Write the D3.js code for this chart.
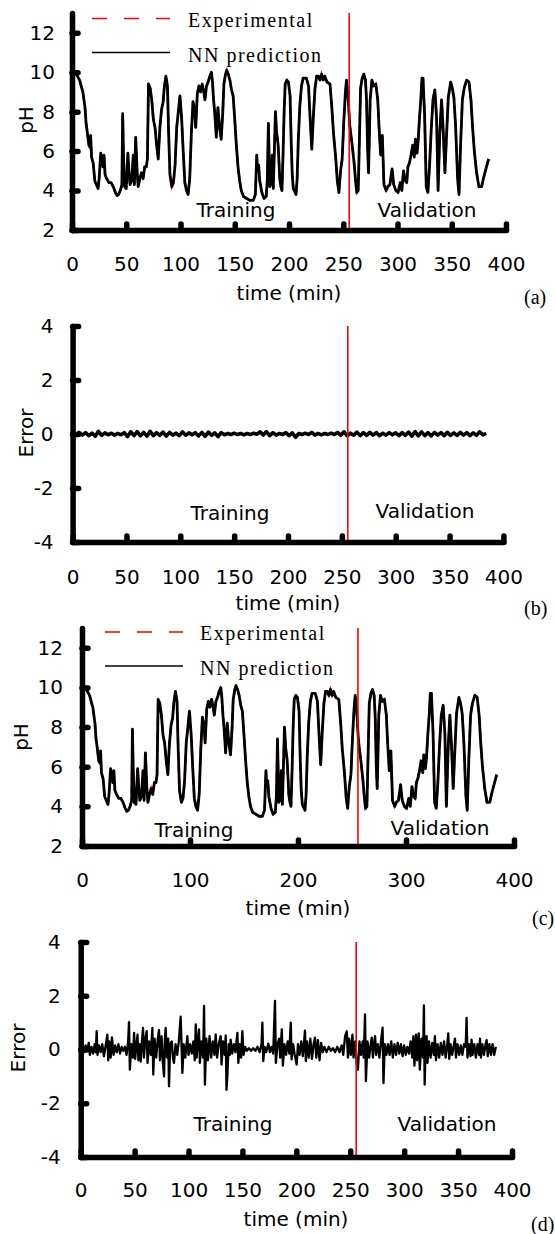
<!DOCTYPE html>
<html><head><meta charset="utf-8">
<script src="https://cdn.jsdelivr.net/npm/d3@7"></script>
<style>body{margin:0;background:#fff} svg{display:block}</style>
</head><body>
<svg id="chart" width="555" height="1234"></svg>
<script>
// ---------- data ----------
const phTicks = [2, 4, 6, 8, 10, 12];
const errTicks = [-4, -2, 0, 2, 4];
const timeTicksFine = [0, 50, 100, 150, 200, 250, 300, 350, 400];
const timeTicksCoarse = [0, 100, 200, 300, 400];
const splitTime = 255.5;
const legendLabels = ["Experimental", "NN prediction"];
const phaseLabels = ["Training", "Validation"];
const panelTags = ["(a)", "(b)", "(c)", "(d)"];

// pH series [time (min), pH]
const phSeries = [
[0,10.0],[2,10.0],[4,9.9],[7,9.6],[10,9.0],[12,8.2],[13,7.4],[14,7.0],[15.5,6.3],[16.5,6.2],
[17.2,6.8],[18,5.7],[19.5,5.4],[21,4.5],[22.5,4.3],[24,4.1],[25,4.6],[26.5,5.9],[27.5,5.6],[28.5,5.2],
[29.5,5.8],[30.5,4.8],[32,4.6],[34,4.4],[36,4.4],[38,4.2],[40,3.9],[41.5,3.75],[43,3.8],[44.5,4.0],
[46,4.3],[46.7,7.9],[47.5,5.7],[48.5,4.2],[50,4.1],[51.5,5.9],[52.5,5.0],[53.5,4.3],[55,4.5],[56.5,5.8],
[57.5,4.3],[58.7,6.7],[60,5.0],[61,4.2],[62.5,4.6],[64,4.9],[65.5,4.6],[67,5.2],[68.5,5.2],[69.5,5.6],
[70.5,9.4],[72,9.2],[73.5,8.6],[75,7.6],[76.5,7.2],[78,6.3],[79.5,5.6],[81,7.2],[82.5,8.1],[84,8.5],
[85,9.2],[86.5,9.8],[88,9.3],[89,7.0],[90.3,4.8],[92,4.2],[93.5,4.4],[95,5.3],[96.5,7.2],[98,8.0],
[99.5,8.8],[101,7.7],[102.5,6.0],[104,4.4],[105.5,4.0],[107,3.8],[108.5,4.6],[110,6.9],[111.5,8.5],[113,8.1],
[114,7.2],[115.5,8.9],[117,9.3],[118.5,9.0],[120,9.4],[121.5,9.0],[122.5,8.6],[124,9.3],[125.5,9.5],[127,9.8],
[128.5,10.0],[129.5,9.5],[130.5,8.6],[131.5,8.0],[133,6.7],[134.5,8.2],[136,7.2],[137.5,6.6],[139,8.0],[140,9.4],
[141.5,9.9],[142.6,10.1],[144,9.9],[145.5,9.6],[147,9.1],[148.5,8.8],[150,7.6],[151.5,6.3],[153,5.2],[154.5,4.5],
[156,4.0],[158,3.7],[161,3.6],[164,3.5],[167,3.5],[169,3.8],[170.3,5.8],[171,5.0],[172,5.3],[173,4.5],
[175,3.9],[177,3.6],[179,3.7],[180,4.5],[181,7.4],[182.3,4.2],[183.5,4.4],[184.5,5.8],[185.5,4.1],[186.5,6.0],
[187.5,8.0],[188.5,7.0],[190,6.3],[191.5,4.6],[192.5,4.2],[193.5,4.0],[194.5,5.8],[195.5,8.0],[196.5,9.4],[198,9.6],
[199.5,9.5],[201,8.8],[202,6.5],[203,4.8],[204,4.1],[206.5,3.8],[207.5,4.6],[208.6,6.6],[210,8.3],[211.5,9.3],
[213,9.7],[216,9.7],[218,9.3],[219.5,7.6],[221,6.1],[222.5,7.8],[224,9.2],[225.5,9.8],[227,9.8],[228.6,9.6],
[230,9.9],[231.6,9.6],[233,9.8],[235,9.5],[237.8,9.4],[239.5,8.2],[241,6.9],[243,5.7],[244.5,4.5],[246,3.9],
[247.5,5.0],[249,5.6],[250.5,7.5],[252,9.0],[253,9.6],[254.5,8.7],[256,7.3],[258,6.4],[260,5.4],[261.5,4.4],
[262.5,3.9],[263.8,4.0],[264.7,6.1],[266,9.2],[267.5,9.7],[269,9.9],[270.5,9.6],[271.5,8.5],[272.5,6.0],[273.3,4.9],
[274,6.5],[274.8,8.6],[276.4,9.6],[278,9.3],[280,9.4],[281.8,8.6],[283,7.2],[284.5,5.8],[286,6.8],[287.5,4.3],
[289.5,4.0],[291,4.2],[293,4.3],[295,5.1],[296.5,4.3],[298.5,4.0],[300.5,3.9],[302.5,4.4],[304,4.0],[305.5,5.0],
[307,4.5],[308.5,4.4],[309.6,5.2],[311,5.4],[312.5,5.8],[314,6.3],[315.5,5.7],[316.5,6.6],[318,5.9],[319,6.5],
[320.3,7.7],[321.5,8.6],[322.5,9.7],[323.5,9.7],[325,7.8],[326.5,4.2],[328,3.9],[329.5,5.2],[331,7.0],[332.7,8.6],
[334.4,9.1],[336,7.7],[337.4,4.0],[339,6.9],[340.6,8.6],[342,7.2],[343.7,4.9],[345.3,6.9],[346.8,8.7],[349,9.5],
[350.5,9.2],[352,8.7],[353.6,7.2],[355.5,4.5],[356.7,3.8],[358.2,6.4],[359.8,8.6],[361.5,9.2],[363.7,9.6],[365.9,9.5],
[367.7,8.6],[369.2,7.2],[370.8,6.0],[372.9,4.9],[375,4.2],[377.5,4.2],[379.6,4.7],[382,5.2],[384,5.6]
];

// error of model (b), sampled every 3 min
const errBTime = d3.range(0, 385, 3);
const errBValues = [
0.02,-0.05,0.06,-0.04,0.05,-0.06,0.03,-0.08,0.1,-0.05,
0.04,-0.03,0.03,-0.04,0.02,-0.03,0.05,-0.1,0.08,-0.06,
0.09,-0.07,0.06,-0.08,0.1,-0.06,0.05,-0.05,0.07,-0.08,
0.06,-0.04,0.03,-0.06,0.08,-0.05,0.04,-0.03,0.05,-0.07,
0.06,-0.09,0.07,-0.05,0.04,-0.1,0.05,-0.03,0.02,-0.02,
0.03,-0.02,0.02,-0.03,0.02,-0.02,0.03,-0.01,0.08,-0.04,
0.09,-0.06,0.05,-0.04,0.02,-0.02,0.05,-0.06,0.04,-0.12,
0.02,-0.02,0.03,-0.02,0.06,-0.04,0.02,-0.03,0.02,-0.02,
0.03,-0.02,0.06,-0.05,0.08,-0.07,0.03,-0.05,0.07,-0.06,
0.05,-0.05,0.06,-0.04,0.05,-0.06,0.03,-0.04,0.05,-0.03,
0.04,-0.06,0.05,-0.05,0.07,-0.08,0.09,-0.07,0.08,-0.06,
0.05,-0.07,0.06,-0.04,0.05,-0.06,0.06,-0.05,0.04,-0.05,
0.06,-0.04,0.05,-0.06,0.04,-0.05,0.08,-0.03,0.02
];

// error of model (d) [time, error]
const errDSeries = [
[0,0.0],[1.5,0.1],[3,-0.1],[4.5,0.15],[6,-0.05],[7.5,0.25],[8.5,-0.2],[10,0.1],[11.5,-0.15],[13,0.2],
[14,-0.1],[14.8,0.68],[15.6,-0.2],[17,0.15],[18.5,-0.1],[20,0.2],[21.5,-0.25],[23,0.1],[24.7,0.55],[25.5,-0.4],
[26.5,0.3],[27.8,-0.3],[29,0.45],[30.5,-0.2],[32,0.15],[33.5,-0.1],[35,0.2],[36.5,-0.15],[38,0.1],[39.5,-0.05],
[41,0.1],[42.5,-0.2],[44,0.3],[44.8,1.02],[45.6,-0.75],[47,0.2],[48.5,-0.3],[49.5,0.62],[50.5,-0.35],[52,0.3],
[52.7,0.55],[53.5,-0.4],[54.6,0.2],[55.6,-0.45],[56.8,0.3],[57.8,0.8],[58.6,-0.3],[60,0.4],[61.2,0.68],[62,-0.5],
[63.5,0.3],[65,-0.2],[66.5,0.8],[67.3,-0.93],[68.5,0.4],[70,-0.3],[71.5,0.4],[72.6,0.72],[73.5,-0.4],[75,0.5],
[76.2,-0.5],[77.3,-1.0],[78,0.3],[78.8,0.8],[80,-0.3],[81.2,0.4],[81.9,-1.37],[83,0.2],[84.5,0.3],[85.5,-0.3],
[86.5,-0.5],[88,0.2],[89.5,-0.2],[91,0.3],[92.7,1.22],[93.5,0.2],[94.3,-0.87],[95.5,0.2],[97,-0.3],[98.9,0.5],
[100,-0.2],[101.5,0.2],[103,-0.15],[104.5,0.3],[105.8,-0.4],[106.7,0.93],[107.5,-0.3],[108.8,0.4],[109.7,0.75],[110.5,-0.5],
[112,0.3],[113.5,-0.3],[114.4,1.62],[115.2,-1.31],[116.5,0.4],[118,-0.4],[119.5,0.5],[121,-0.3],[122.5,0.3],[124,-0.2],
[125.2,0.56],[126.5,-0.3],[128,0.2],[129.8,0.5],[130.6,-0.56],[132,0.3],[133.5,-0.2],[134.5,0.52],[135.2,-1.5],[136,-1.0],
[137.2,0.2],[138.3,-0.2],[139.1,0.37],[140.5,-0.15],[142,0.2],[143.5,-0.1],[145.3,0.62],[146.2,-0.5],[147.5,0.2],[148.8,-0.3],
[149.9,0.68],[151,-0.2],[152.5,0.1],[154,-0.05],[156,0.05],[158,-0.05],[160,0.05],[162,-0.05],[164,0.1],[166,-0.1],
[167.7,0.2],[168.5,1.0],[169.3,-0.43],[170.5,0.1],[172,-0.1],[174,0.22],[175.5,-0.1],[177,0.1],[178.5,-0.15],[180.2,1.81],
[181,-0.5],[182.5,0.2],[184,0.4],[185,-0.3],[186.5,0.75],[187.5,-0.6],[189,0.2],[190.5,-0.2],[192,0.3],[193.5,-0.15],
[194.8,1.0],[195.6,-0.37],[197,0.2],[198.5,-0.2],[200.3,-0.56],[201.5,0.2],[203,-0.2],[204.5,0.3],[206,-0.25],[208,0.7],
[208.8,-0.43],[210,0.3],[211.5,-0.3],[213,0.4],[214.5,-0.35],[216,0.2],[217.3,0.44],[218.5,-0.3],[220,0.35],[221.5,-0.4],
[223,0.25],[224.5,-0.1],[226,0.1],[228,-0.1],[230,0.1],[232,-0.05],[234,0.05],[236,-0.1],[238,0.1],[240,-0.1],
[242,0.15],[243.5,-0.2],[245.2,0.5],[246.8,0.68],[247.8,-0.3],[249,0.4],[250.5,-0.2],[252,0.55],[253,-0.3],[254.6,0.3],
[255.8,-0.5],[257.1,-0.75],[258.5,0.3],[260,-0.2],[261.5,0.3],[262.5,-0.3],[263.7,1.31],[264.5,-1.18],[266,0.3],[267.5,-0.3],
[269,0.2],[269.9,0.44],[271,-0.3],[272,0.2],[273,0.5],[274,-0.2],[275.5,0.2],[277,-0.3],[278.5,0.3],[280,0.81],
[280.8,-1.25],[282,0.2],[283.5,-0.2],[285,0.2],[286.5,-0.2],[288,0.3],[289.5,-0.3],[291,0.2],[292.5,-0.2],[294,0.25],
[295.5,-0.15],[297,0.2],[298.5,-0.25],[300,0.15],[301.5,-0.2],[303,0.1],[304.5,-0.15],[306,0.3],[307.5,-0.3],[308.5,0.5],
[309.5,-0.6],[311,0.55],[312,-0.4],[313.5,0.6],[314.5,-0.75],[316,0.4],[317.5,-0.3],[318.3,1.64],[319,-1.31],[320,0.3],
[320.8,0.5],[321.6,-0.5],[323,0.3],[324.5,-0.3],[326,0.25],[327.5,-0.2],[328.5,0.5],[329.5,-0.4],[331,0.2],[332.5,-0.3],
[334,0.25],[335.5,-0.2],[337,0.3],[338.5,-0.3],[340,0.2],[340.9,0.6],[341.8,-0.35],[343,0.2],[344.5,-0.2],[346,0.15],
[347.1,0.4],[348,-0.3],[349.5,0.2],[351,-0.2],[352.5,0.15],[354,-0.2],[355.5,0.2],[357,0.1],[357.9,1.18],[358.7,-0.3],
[360,0.2],[361.5,-0.25],[362.5,0.37],[363.5,-0.2],[365,0.2],[366.5,-0.3],[368,0.2],[369.5,-0.2],[370.3,0.4],[371.2,-0.3],
[372.5,0.2],[374,-0.2],[375.5,0.2],[376.5,0.35],[377.5,-0.25],[379,0.2],[380.5,-0.2],[382,0.2],[383.5,-0.2],[385,0.1]
];

// ---------- drawing ----------
const SANS = "'DejaVu Sans', Verdana, sans-serif";
const SERIF = "'Liberation Serif', 'Times New Roman', serif";
const svg = d3.select("#chart");

const panels = [
  {tag:0, kind:"ph", xr:[72,506], yd:[2,13], yr:[230,13], xt:timeTicksFine, yPad:17, xPad:27,
   title:[289,300], ylab:[26,120,"pH"], tagPos:[524,304], phase:[[236,217],[427,217]],
   legend:{x1:92,x2:170,y1:18.5,y2:52.5,tx:188,ty1:27,ty2:62}},
  {tag:1, kind:"errB", xr:[72.6,503.4], yd:[-4,4], yr:[542,326], xt:timeTicksFine, yPad:19, xPad:28,
   title:[288,610], ylab:[26,433,"Error"], tagPos:[524,615], phase:[[230,520],[425,518]]},
  {tag:2, kind:"ph", xr:[82,514], yd:[2,13], yr:[846,628], xt:timeTicksCoarse, yPad:19, xPad:27,
   title:[298,915], ylab:[21,737,"pH"], tagPos:[532,925], phase:[[194,837],[440,835]],
   legend:{x1:105,x2:183,y1:632,y2:666,tx:200,ty1:640,ty2:675}},
  {tag:3, kind:"errD", xr:[80.7,512], yd:[-4,4], yr:[1157,942], xt:timeTicksFine, yPad:20, xPad:26,
   title:[296,1226], ylab:[18,1048,"Error"], tagPos:[531,1231], phase:[[233,1131],[447,1131]]}
];

panels.forEach(p => {
  const x = d3.scaleLinear().domain([0,400]).range(p.xr);
  const y = d3.scaleLinear().domain(p.yd).range(p.yr);
  const g = svg.append("g");

  if (p.kind === "ph") {
    const line = d3.line().x(d => x(d[0])).y(d => y(d[1]));
    g.append("path").datum(phSeries).attr("d", line)
      .attr("fill","none").attr("stroke","#ff0000").attr("stroke-width",2.2)
      .attr("stroke-dasharray","8,5");
    g.append("path").datum(phSeries).attr("d", line)
      .attr("fill","none").attr("stroke","#000").attr("stroke-width",2.8)
      .attr("stroke-linejoin","round");
  } else if (p.kind === "errB") {
    const line = d3.line().x((d,i) => x(errBTime[i])).y(d => y(d));
    g.append("path").datum(errBValues).attr("d", line)
      .attr("fill","none").attr("stroke","#000").attr("stroke-width",3.6)
      .attr("stroke-linejoin","round");
  } else {
    const line = d3.line().x(d => x(d[0])).y(d => y(d[1]));
    g.append("path").datum(errDSeries).attr("d", line)
      .attr("fill","none").attr("stroke","#000").attr("stroke-width",2.3)
      .attr("stroke-linejoin","round");
  }

  // split line
  g.append("line").attr("x1",x(splitTime)).attr("x2",x(splitTime))
    .attr("y1",y(p.yd[0])).attr("y2",y(p.yd[1]))
    .attr("stroke","#ff0000").attr("stroke-width",1.6);

  // axes
  const yAxis = d3.axisLeft(y).tickValues(p.kind==="ph"?phTicks:errTicks)
    .tickSizeInner(-6).tickSizeOuter(0).tickPadding(p.yPad).tickFormat(d => String(d));
  const xAxis = d3.axisBottom(x).tickValues(p.xt)
    .tickSizeInner(-6).tickSizeOuter(0).tickPadding(p.xPad).tickFormat(d => String(d));
  const gy = g.append("g").attr("transform",`translate(${p.xr[0]},0)`).call(yAxis);
  const gx = g.append("g").attr("transform",`translate(0,${p.yr[0]})`).call(xAxis);
  [gx, gy].forEach(ax => {
    ax.attr("font-family", SANS).attr("font-size", 20);
    ax.select(".domain").attr("stroke","#000").attr("stroke-width",5.5).attr("stroke-linecap","round");
    ax.selectAll(".tick line").attr("stroke","#000").attr("stroke-width",5.5).attr("stroke-linecap","round");
    ax.selectAll(".tick text").attr("fill","#000");
  });

  // titles
  svg.append("text").attr("x",p.title[0]).attr("y",p.title[1]).attr("text-anchor","middle")
    .attr("font-family",SANS).attr("font-size",20).text("time (min)");
  svg.append("text").attr("transform",`translate(${p.ylab[0]},${p.ylab[1]}) rotate(-90)`)
    .attr("text-anchor","middle").attr("dominant-baseline","central")
    .attr("font-family",SANS).attr("font-size",20).text(p.ylab[2]);
  svg.append("text").attr("x",p.tagPos[0]).attr("y",p.tagPos[1])
    .attr("font-family",SERIF).attr("font-size",20).text(panelTags[p.tag]);
  p.phase.forEach((pos,i) => {
    svg.append("text").attr("x",pos[0]).attr("y",pos[1]).attr("text-anchor","middle")
      .attr("font-family",SANS).attr("font-size",20).text(phaseLabels[i]);
  });

  // legend
  if (p.legend) {
    const L = p.legend;
    svg.append("line").attr("x1",L.x1).attr("x2",L.x2).attr("y1",L.y1).attr("y2",L.y1)
      .attr("stroke","#ff0000").attr("stroke-width",1.6).attr("stroke-dasharray","15,17");
    svg.append("line").attr("x1",L.x1).attr("x2",L.x2).attr("y1",L.y2).attr("y2",L.y2)
      .attr("stroke","#000").attr("stroke-width",1.6);
    svg.append("text").attr("x",L.tx).attr("y",L.ty1).attr("font-family",SERIF)
      .attr("font-size",20).attr("letter-spacing","1.5px").text(legendLabels[0]);
    svg.append("text").attr("x",L.tx).attr("y",L.ty2).attr("font-family",SERIF)
      .attr("font-size",20).attr("letter-spacing","1.5px").text(legendLabels[1]);
  }
});
</script>
</body></html>
